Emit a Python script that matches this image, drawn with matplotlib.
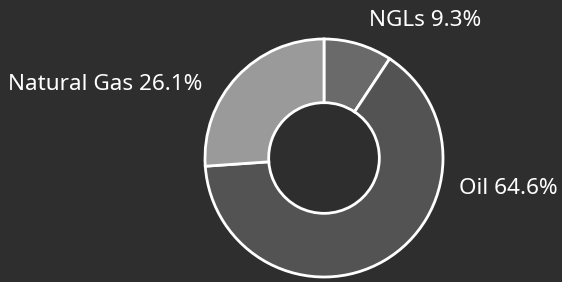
import matplotlib.pyplot as plt

# production mix
labels = ["NGLs", "Oil", "Natural Gas"]
shares = [9.3, 64.6, 26.1]
colors = ["#6a6a6a", "#535353", "#9a9a9a"]

bg = "#2e2e2e"
plt.rcParams['font.family'] = ['Noto Sans', 'DejaVu Sans']

fig = plt.figure(figsize=(5.62, 2.82), dpi=100, facecolor=bg)
ax = fig.add_axes([0, 0, 1, 1])
ax.set_facecolor(bg)

W, H = 562, 282
cx, cy, r = 324, H - 158, 119

ax.pie(shares, colors=colors, startangle=90, counterclock=False,
       center=(cx, cy), radius=r, frame=True,
       wedgeprops=dict(width=r * 0.535, edgecolor="white", linewidth=2))

# label positions (pixels from top-left)
spots = {"NGLs": (369, 20), "Oil": (459, 188), "Natural Gas": (8, 84)}
for name, val in zip(labels, shares):
    x, y = spots[name]
    ax.text(x, H - y, "{} {}%".format(name, val), color="white",
            fontsize=16.2, ha="left", va="center")

ax.set_xlim(0, W)
ax.set_ylim(0, H)
ax.set_aspect("equal")
ax.axis("off")
fig.savefig("out.png", dpi=100, facecolor=bg)
